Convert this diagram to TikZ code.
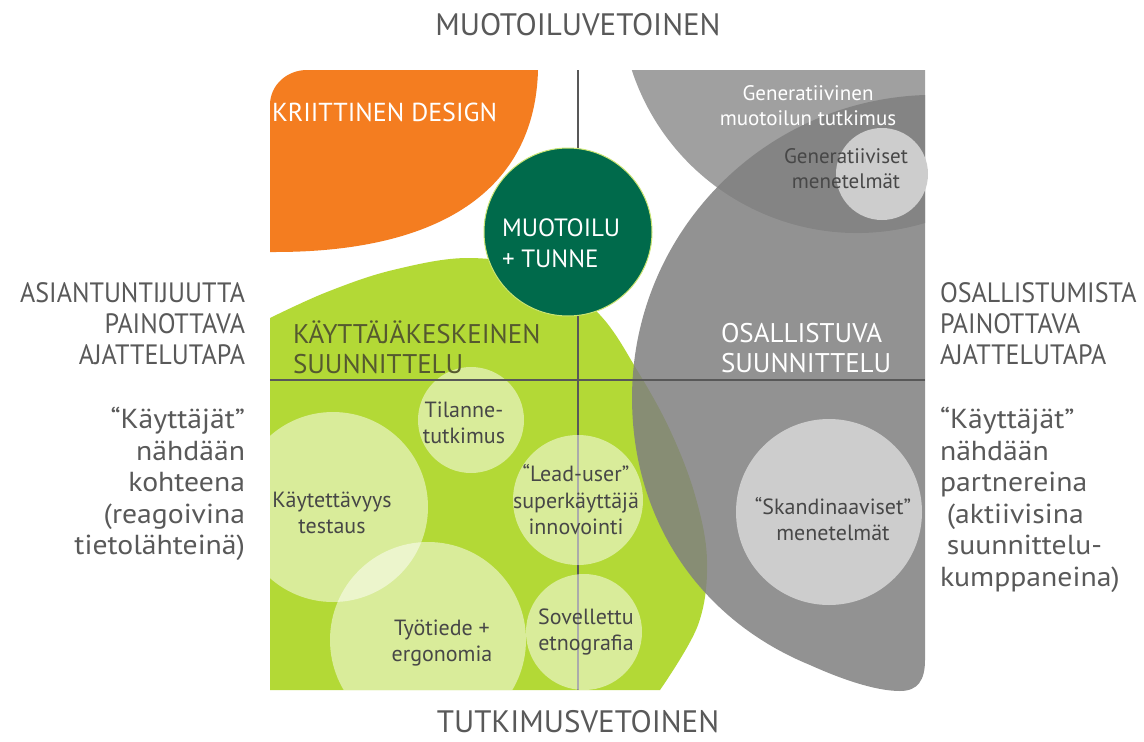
\documentclass[tikz,border=0pt]{standalone}
\usepackage{fontspec}
\setmainfont{PT Sans}
\newfontfamily\capsf{PT Sans}[FakeStretch=0.93]
\newfontfamily\lowf{PT Sans}[FakeStretch=1.08]
\definecolor{orng}{HTML}{F47D20}
\definecolor{lime}{HTML}{B3D936}
\definecolor{dkgreen}{HTML}{006A4B}
\definecolor{gtop}{HTML}{A0A0A0}
\definecolor{gbig}{HTML}{808080}
\definecolor{glight}{HTML}{CDCDCD}
\definecolor{axisc}{HTML}{585858}
\definecolor{txtgray}{HTML}{595959}
\definecolor{txtin}{HTML}{474747}
\definecolor{txtolive}{HTML}{55592F}
\newcommand{\fs}[2]{\fontsize{#1}{#2}\selectfont}
\begin{document}
\begin{tikzpicture}[x=1pt,y=-1pt,
  every node/.style={inner sep=0pt, outer sep=0pt},
  outercaps/.style={text=txtgray, font=\capsf\fs{28}{31}},
  outerlow/.style={text=txtgray, font=\lowf\fs{27.5}{31.5}},
  inlabel/.style={text=txtin, font=\fs{22}{26.5}, align=center},
  bigcaps/.style={font=\fs{27}{30}},
  axisline/.style={draw=axisc, line width=2.5pt},
  softcirc/.style={fill=white, fill opacity=0.5},
  graycirc/.style={fill=glight}
]
\useasboundingbox[fill=white] (0,0) rectangle (1144,742);

% orange
\fill[orng] (270,252) -- (270,105) .. controls (270,85) and (287,70) .. (307,70)
  -- (538,70) .. controls (535,190) and (440,252) .. (275,252) -- cycle;

% top gray
\fill[gtop] (632,70) -- (925,70) -- (925,223) arc[start angle=73.3, end angle=161.8, radius=237] -- cycle;

% lime
\fill[lime] (270,690) -- plot[smooth, tension=0.6] coordinates {(270,318) (327,292) (393,270) (470,258) (545,272) (600,315) (637,370) (670,430) (695,495) (707,560) (698,625) (660,690)} -- cycle;

% vertical axis
\coordinate (vtop) at (578,70);
\coordinate (vbot) at (578,690);
\draw[axisline] (vtop) -- (vbot);

% light circles in lime
\begin{scope}
\clip (270,690) -- plot[smooth, tension=0.6] coordinates {(270,318) (327,292) (393,270) (470,258) (545,272) (600,315) (637,370) (670,430) (695,495) (707,560) (698,625) (660,690)} -- cycle;
\fill[softcirc] (333,507) circle[radius=95];
\fill[softcirc] (471,420) circle[radius=53];
\fill[softcirc] (428,640) circle[radius=98];
\fill[softcirc] (578,500) circle[radius=65];
\fill[softcirc] (584,632) circle[radius=58];
\end{scope}

% big gray
\fill[gbig, fill opacity=0.85] (925,95) arc[start angle=-91.9, end angle=-180, radius=303]
  .. controls (632,520) and (700,620) .. (810,665)
  .. controls (850,683) and (880,691) .. (900,691)
  .. controls (918,691) and (925,680) .. (925,660) -- cycle;

% light gray circles
\fill[graycirc] (882,174) circle[radius=46];
\fill[graycirc] (829,512) circle[radius=93];

% horizontal axis
\coordinate (hl) at (270,380);
\coordinate (hr) at (925,380);
\draw[axisline] (hl) -- (hr);

% dark green circle
\node[circle, minimum size=168pt, fill=dkgreen, draw=lime!70!white, line width=1pt] (mt) at (568,232) {};
\node[text=white, font=\fs{25}{31}, align=left, anchor=west] (mtt) at (502,243) {MUOTOILU\\+ TUNNE};

% region titles
\node[font=\fs{26}{30}, text=white, anchor=west] (kd) at (272,112) {KRIITTINEN DESIGN};
\node[bigcaps, text=txtolive, anchor=west, align=left] (kk) at (293,347) {KÄYTTÄJÄKESKEINEN\\SUUNNITTELU};
\node[bigcaps, text=white, anchor=west, align=left] (os) at (721,348) {OSALLISTUVA\\SUUNNITTELU};

\node[text=white, font=\fs{21}{25}, align=center] (gm) at (808,106) {Generatiivinen\\muotoilun tutkimus};
\node[text=txtin, font=\fs{21}{25}, align=center] (gen) at (846,169) {Generatiiviset\\menetelmät};
\node[inlabel] (sk) at (833,519) {“Skandinaaviset”\\menetelmät};
\node[inlabel] (lu) at (576,500) {“Lead-user”\\superkäyttäjä\\innovointi};
\node[inlabel] (ti) at (464,423) {Tilanne-\\tutkimus};
\node[inlabel] (kt) at (332,513) {Käytettävyys\\testaus};
\node[inlabel] (ty) at (442,643) {Työtiede +\\ergonomia};
\node[inlabel] (so) at (586,632) {Sovellettu\\etnografia};

% axis titles
\node[text=txtgray, font=\fs{31}{36}] (top) at (578,25) {MUOTOILUVETOINEN};
\node[text=txtgray, font=\fs{31}{36}] (bot) at (578,722) {TUTKIMUSVETOINEN};

\node[outercaps, align=right, anchor=east] (lc) at (245,324) {ASIANTUNTIJUUTTA\\PAINOTTAVA\\AJATTELUTAPA};
\node[outerlow, align=right, anchor=east] (ll) at (245,484) {“Käyttäjät”\\nähdään\\kohteena\\(reagoivina\\tietolähteinä)};
\node[outercaps, align=left, anchor=west] (rc) at (940,324) {OSALLISTUMISTA\\PAINOTTAVA\\AJATTELUTAPA};
\node[outerlow, align=left, anchor=west] (rl) at (940,500) {“Käyttäjät”\\nähdään\\partnereina\\\hspace*{0.25em}(aktiivisina\\\hspace*{0.25em}suunnittelu-\\kumppaneina)};
\end{tikzpicture}
\end{document}
